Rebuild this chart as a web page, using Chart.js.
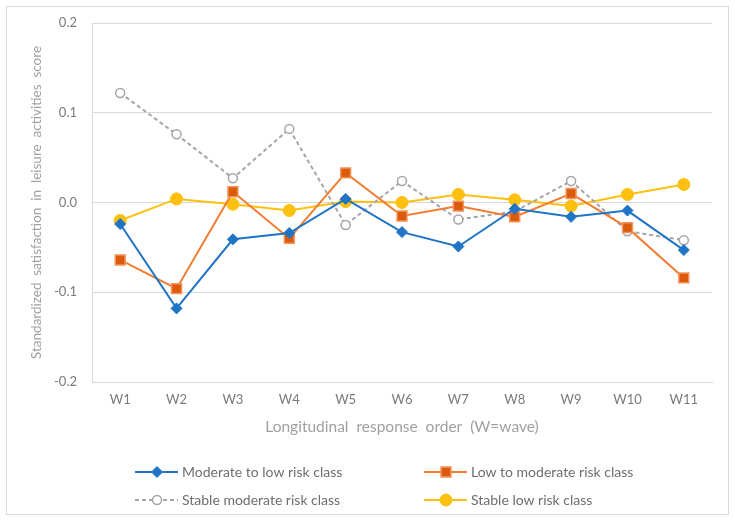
<!DOCTYPE html>
<html>
<head>
<meta charset="utf-8">
<style>
  html, body { margin: 0; padding: 0; background: #fff; }
  #wrap { position: relative; width: 735px; height: 521px; }
</style>
<script src="https://cdn.jsdelivr.net/npm/chart.js@4.4.1/dist/chart.umd.min.js"></script>
</head>
<body>
<div id="wrap"><canvas id="satChart"></canvas></div>
<script>
const waves = ['W1', 'W2', 'W3', 'W4', 'W5', 'W6', 'W7', 'W8', 'W9', 'W10', 'W11'];
const yTicks = [-0.2, -0.1, 0.0, 0.1, 0.2];

const moderateToLow = [-0.024, -0.118, -0.041, -0.034, 0.004, -0.033, -0.049, -0.007, -0.016, -0.009, -0.053];
const lowToModerate = [-0.064, -0.096, 0.012, -0.040, 0.033, -0.015, -0.004, -0.016, 0.010, -0.028, -0.084];
const stableModerate = [0.122, 0.076, 0.027, 0.082, -0.025, 0.024, -0.019, -0.010, 0.024, -0.032, -0.042];
const stableLow = [-0.020, 0.004, -0.002, -0.009, 0.001, 0.000, 0.009, 0.003, -0.004, 0.009, 0.020];

const FONT = 'Lato, "Open Sans", sans-serif';

// legend with line + marker, like the spreadsheet original
const lineLegend = {
  id: 'lineLegend',
  beforeDraw(chart) {
    const { ctx } = chart;
    ctx.save();
    ctx.fillStyle = '#fff';
    ctx.fillRect(0, 0, chart.width, chart.height);
    ctx.strokeStyle = '#d9d9d9';
    ctx.lineWidth = 1;
    ctx.strokeRect(6.5, 6.5, 722, 508);
    ctx.restore();
  },
  afterDraw(chart) {
    const { ctx } = chart;
    const slots = [
      { x: 135, y: 472 },
      { x: 424, y: 472 },
      { x: 135, y: 500 },
      { x: 424, y: 500 },
    ];
    chart.data.datasets.forEach((ds, i) => {
      const { x, y } = slots[i];
      ctx.save();
      ctx.strokeStyle = ds.borderColor;
      ctx.lineWidth = 2;
      ctx.setLineDash(ds.borderDash || []);
      ctx.beginPath();
      ctx.moveTo(x, y);
      ctx.lineTo(x + 43, y);
      ctx.stroke();
      ctx.setLineDash([]);
      const cx = x + 22;
      const r = ds.pointRadius;
      ctx.fillStyle = ds.pointBackgroundColor;
      ctx.strokeStyle = ds.pointBorderColor;
      ctx.lineWidth = ds.pointBorderWidth;
      ctx.beginPath();
      if (ds.pointStyle === 'rectRot') {
        ctx.moveTo(cx - r, y); ctx.lineTo(cx, y - r); ctx.lineTo(cx + r, y); ctx.lineTo(cx, y + r); ctx.closePath();
      } else if (ds.pointStyle === 'rect') {
        const s = r * Math.SQRT1_2;
        ctx.rect(cx - s, y - s, 2 * s, 2 * s);
      } else {
        ctx.arc(cx, y, r, 0, Math.PI * 2);
      }
      ctx.fill();
      ctx.stroke();
      ctx.fillStyle = '#6e6e6e';
      ctx.font = '14px ' + FONT;
      ctx.textBaseline = 'middle';
      ctx.fillText(ds.label, x + 47, y);
      ctx.restore();
    });
  },
};

new Chart(document.getElementById('satChart'), {
  type: 'line',
  data: {
    labels: waves,
    datasets: [
      {
        label: 'Moderate to low risk class',
        data: moderateToLow,
        borderColor: '#1f74c6',
        borderWidth: 2,
        pointStyle: 'rectRot',
        pointRadius: 5.5,
        pointBackgroundColor: '#1f74c6',
        pointBorderColor: '#1f74c6',
        pointBorderWidth: 1,
        tension: 0,
      },
      {
        label: 'Low to moderate risk class',
        data: lowToModerate,
        borderColor: '#f07d31',
        borderWidth: 2,
        pointStyle: 'rect',
        pointRadius: 7,
        pointBackgroundColor: '#dc5a0c',
        pointBorderColor: '#f5935a',
        pointBorderWidth: 1.5,
        tension: 0,
      },
      {
        label: 'Stable moderate risk class',
        data: stableModerate,
        borderColor: '#a5a5a5',
        borderWidth: 2,
        borderDash: [4, 3],
        pointStyle: 'circle',
        pointRadius: 4.5,
        pointBackgroundColor: '#ffffff',
        pointBorderColor: '#a5a5a5',
        pointBorderWidth: 1.5,
        tension: 0,
      },
      {
        label: 'Stable low risk class',
        data: stableLow,
        borderColor: '#fdc00f',
        borderWidth: 2,
        pointStyle: 'circle',
        pointRadius: 6,
        pointBackgroundColor: '#fdc00f',
        pointBorderColor: '#fdc00f',
        pointBorderWidth: 1,
        tension: 0,
      },
    ],
  },
  options: {
    responsive: true,
    maintainAspectRatio: false,
    animation: false,
    layout: { padding: { top: 23, right: 23, bottom: 79, left: 0 } },
    scales: {
      x: {
        offset: true,
        grid: { display: false },
        border: { display: true, color: '#d9d9d9' },
        ticks: { color: '#7a7a7a', font: { family: FONT, size: 13 }, padding: 2 },
        title: {
          display: true,
          text: 'Longitudinal  response  order  (W=wave)',
          color: '#a0a0a0',
          font: { family: FONT, size: 15.5 },
          padding: { top: 0, bottom: 6 },
        },
        afterFit: (s) => { s.height = 60; },
      },
      y: {
        min: yTicks[0],
        max: yTicks[yTicks.length - 1],
        afterBuildTicks: (s) => { s.ticks = yTicks.map((v) => ({ value: v })); },
        grid: { color: '#d9d9d9', lineWidth: 1, drawTicks: false },
        border: { display: true, color: '#d9d9d9' },
        ticks: {
          color: '#7a7a7a',
          font: { family: FONT, size: 13 },
          padding: 15,
          callback: (v) => Number(v).toFixed(1),
        },
        title: {
          display: true,
          text: 'Standardized  satisfaction  in  leisure  activities  score',
          color: '#a0a0a0',
          font: { family: FONT, size: 13.5 },
          padding: { top: 29, bottom: 0 },
        },
        afterFit: (s) => { s.width = 92; },
      },
    },
    plugins: {
      legend: { display: false },
      tooltip: { enabled: false },
    },
  },
  plugins: [lineLegend],
});
</script>
</body>
</html>
